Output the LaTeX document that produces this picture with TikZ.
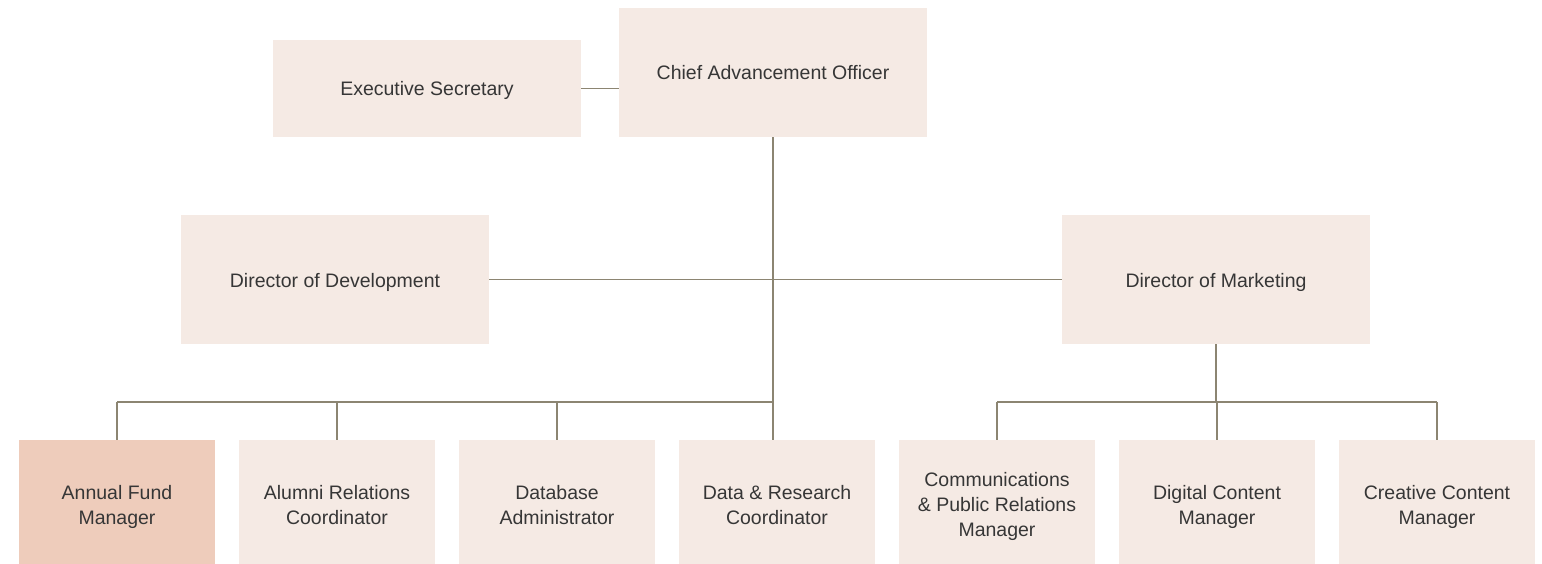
\documentclass[tikz,border=0pt]{standalone}
\usepackage{fontspec}
\setmainfont{Liberation Sans}
\definecolor{boxfill}{HTML}{F5EAE4}
\definecolor{hifill}{HTML}{EECCBB}
\definecolor{linkcol}{HTML}{8C8572}
\definecolor{txt}{HTML}{363636}
\begin{document}
\begin{tikzpicture}[x=1pt,y=-1pt,
  box/.style={fill=boxfill,draw=none,inner sep=0pt},
  lbl/.style={align=center,text=txt,inner sep=0pt,
    font=\fontsize{19.5}{25}\selectfont},
  % caption set at the box centre, lowered by a small amount
  cap/.style 2 args={label={[lbl,yshift=-#1pt]center:{#2}}},
  wide/.style={box,minimum width=308,minimum height=129},
  leaf/.style={box,minimum width=196,minimum height=124},
  link/.style={draw=linkcol,line width=1.1pt}]
\useasboundingbox (0,0) rectangle (1542,564);
% top level
\node[wide,minimum height=97,cap={2}{Executive Secretary}] (sec) at (427,88.5) {};
\node[wide,cap={0}{Chief Advancement Officer}] (cao) at (773,72.5) {};
% directors
\node[wide,cap={2.5}{Director of Development}] (dev) at (335,279.5) {};
\node[wide,cap={2.5}{Director of Marketing}] (mkt) at (1216,279.5) {};
% staff row
\node[leaf,fill=hifill,cap={4.5}{Annual Fund\\Manager}] (afm) at (117,502) {};
\node[leaf,cap={3.5}{Alumni Relations\\Coordinator}] (arc) at (337,502) {};
\node[leaf,cap={3.5}{Database\\Administrator}] (dba) at (557,502) {};
\node[leaf,cap={3.5}{Data \& Research\\Coordinator}] (drc) at (777,502) {};
\node[leaf,cap={4}{Communications\\\& Public Relations\\Manager}] (cpr) at (997,502) {};
\node[leaf,cap={4.5}{Digital Content\\Manager}] (dcm) at (1217,502) {};
\node[leaf,cap={4.5}{Creative Content\\Manager}] (ccm) at (1437,502) {};
% bus level shared by both branches
\coordinate (bus) at (0,402);
% connectors
\draw[link] (sec.east) -- (sec.east -| cao.west);
\draw[link] (cao.south) -- (cao.south |- drc.north);
\draw[link] (dev.east) -- (mkt.west);
\draw[link] (afm.north |- bus) -- (cao.south |- bus);
\foreach \n in {afm,arc,dba} \draw[link] (\n.north) -- (\n.north |- bus);
\draw[link] (mkt.south) -- (mkt.south |- bus);
\draw[link] (cpr.north |- bus) -- (ccm.north |- bus);
\foreach \n in {cpr,dcm,ccm} \draw[link] (\n.north) -- (\n.north |- bus);
\end{tikzpicture}
\end{document}
